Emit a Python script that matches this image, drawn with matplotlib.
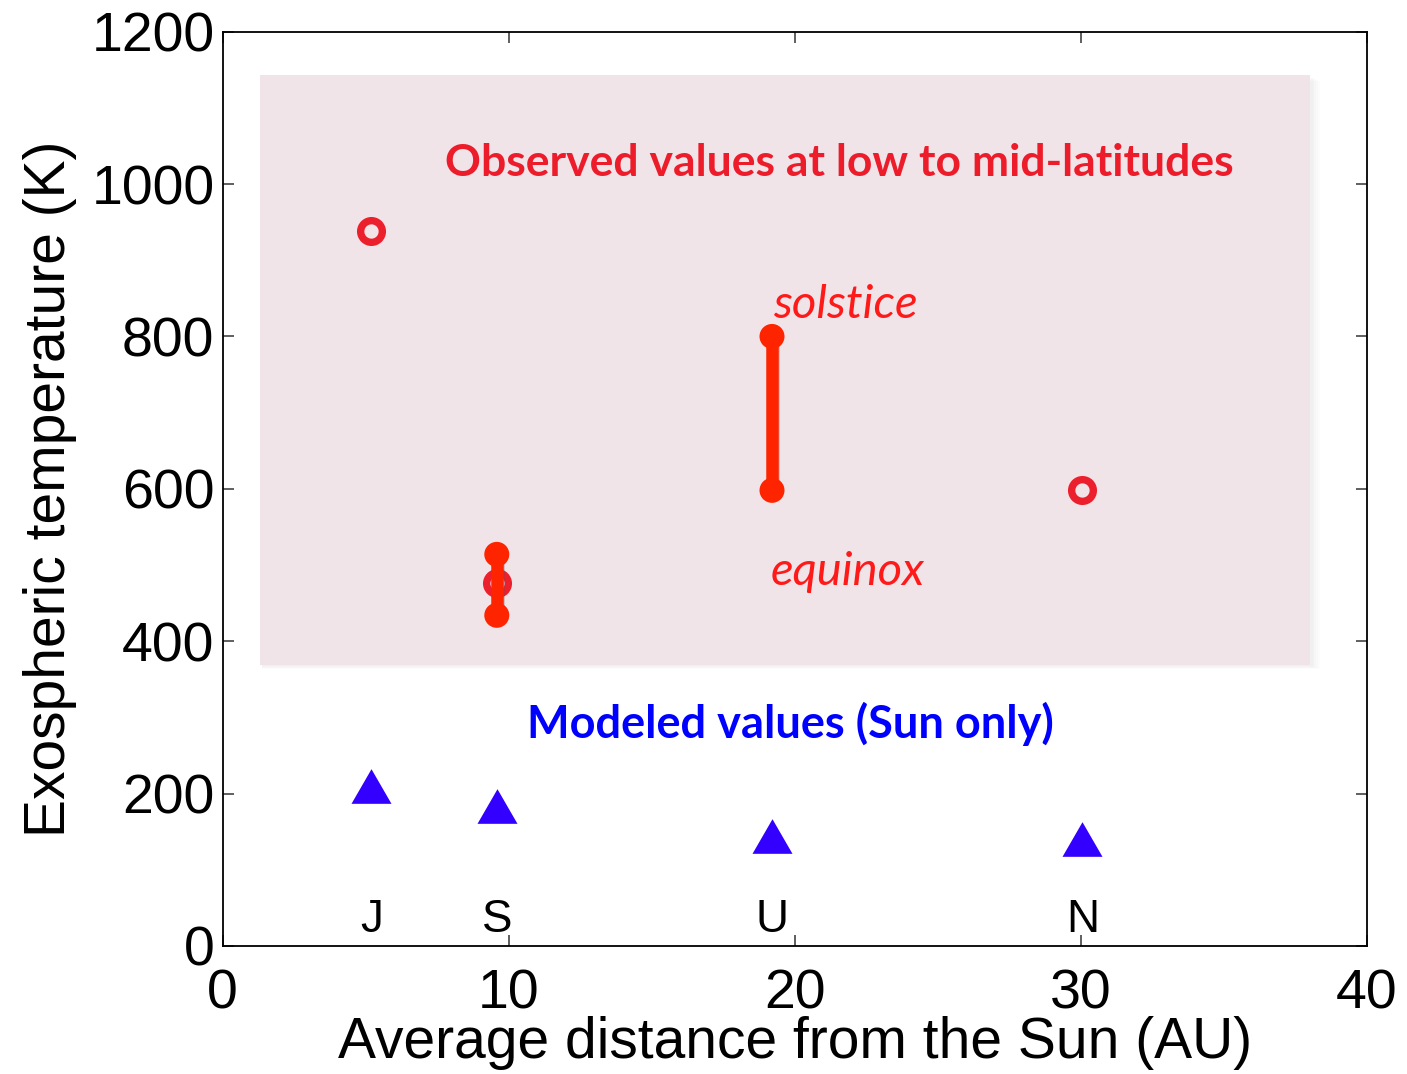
import matplotlib
matplotlib.use("Agg")
import matplotlib.pyplot as plt
import matplotlib.patheffects as pe
from matplotlib.patches import Rectangle

# Planet distances (AU) and labels
planets = ["J", "S", "U", "N"]
distance = [5.2, 9.58, 19.2, 30.05]

# Observed exospheric temperatures (K)
obs_point_x = [5.2, 9.58, 30.05]
obs_point_T = [939, 477, 599]

# Observed ranges (equinox -> solstice)
range_x = [9.58, 19.2]
range_low = [434, 598]
range_high = [514, 800]

# Modeled values, solar heating only (K)
model_T = [210, 184, 145, 140]

label_y = 34

xticks = [0, 10, 20, 30, 40]
yticks = [0, 200, 400, 600, 800, 1000, 1200]

fig = plt.figure(figsize=(14.07, 10.74), dpi=100)
ax = fig.add_axes([0.1583, 0.1192, 0.9716 - 0.1583, 0.9705 - 0.1192])
ax.set_xlim(0, 40)
ax.set_ylim(0, 1200)

# Shaded region for observations, with a soft shadow
for i in range(5):
    d = (i + 1) * 0.06
    ax.add_patch(Rectangle((1.31 + 0.05, 369 - d * 20), 36.68 + d, 774 - 2, facecolor="#999999",
                           edgecolor="none", alpha=0.025, zorder=0.5))
ax.add_patch(Rectangle((1.31, 369), 36.68, 774, facecolor="#f0e4e9", edgecolor="none", zorder=1))

ax.text(21.55, 1010, "Observed values at low to mid-latitudes", color="#ed1c2a",
        fontsize=32, fontweight="bold", family="Lato", ha="center", va="baseline", zorder=5)
ax.text(19.25, 824, "solstice", color="#ff1a1a", fontsize=34, style="italic",
        family="Lato", ha="left", va="baseline", zorder=5)
ax.text(19.15, 474, "equinox", color="#ff1a1a", fontsize=34, style="italic",
        family="Lato", ha="left", va="baseline", zorder=5)
ax.text(19.84, 273, "Modeled values (Sun only)", color="#0000ff",
        fontsize=32.5, fontweight="bold", family="Lato", ha="center", va="baseline", zorder=5)

# Observed single values (open rings)
ax.plot(obs_point_x, obs_point_T, linestyle="none", marker="o", markersize=15.6,
        markerfacecolor="none", markeredgecolor="#ec1f2c", markeredgewidth=5.3, zorder=3)

# Observed ranges
shadow = [pe.SimpleLineShadow(offset=(1, -2.5), shadow_color="#555555", alpha=0.3), pe.Normal()]
for x, lo, hi in zip(range_x, range_low, range_high):
    ax.plot([x, x], [lo, hi], color="#ff2400", linewidth=9, solid_capstyle="butt",
            marker="o", markersize=18, markeredgewidth=0, zorder=4, path_effects=shadow)

# Modeled values (triangles)
tri = [(0, 0.866), (-1, -0.866), (1, -0.866)]
ax.plot(distance, model_T, linestyle="none", marker=tri, markersize=28.8,
        color="#3300ff", markeredgewidth=0, zorder=4)

for x, name in zip(distance, planets):
    ax.text(x, label_y, name, fontsize=33, family="Liberation Sans",
            ha="center", va="center", zorder=5)

ax.set_xticks(xticks)
ax.set_yticks(yticks)
ax.set_xticklabels([str(v) for v in xticks], family="Liberation Sans", fontsize=40)
ax.set_yticklabels([str(v) for v in yticks], family="Liberation Sans", fontsize=40)
ax.tick_params(axis="both", direction="in", length=8, width=1.2, color="#444444",
               top=True, right=True)
ax.tick_params(axis="x", pad=16)
ax.tick_params(axis="y", pad=6)
for s in ax.spines.values():
    s.set_linewidth(1.3)
    s.set_zorder(6)

ax.set_xlabel("Average distance from the Sun (AU)", family="Liberation Sans", fontsize=41, labelpad=-3)
ax.set_ylabel("Exospheric temperature (K)", family="Liberation Sans", fontsize=41, labelpad=10)

fig.savefig("out.png", dpi=100, facecolor="white")
